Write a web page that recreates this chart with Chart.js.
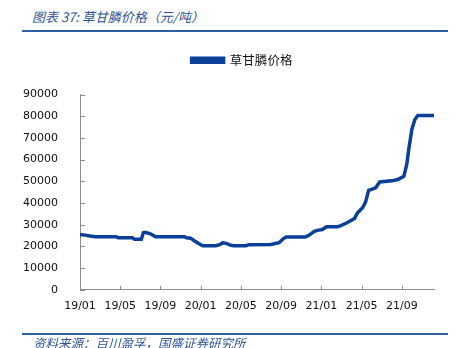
<!DOCTYPE html>
<html>
<head>
<meta charset="utf-8">
<script src="https://cdn.jsdelivr.net/npm/chart.js@4"></script>
<style>
    body { margin: 0; background: #fff; }
    #wrap { position: relative; width: 460px; height: 348px; overflow: hidden; }
    #chart { position: absolute; left: 0; top: 0; }
    .title {
        position: absolute; left: 32px; top: 7px;
        font: italic 13px "Noto Sans CJK SC", sans-serif; color: #2f5597;
        white-space: nowrap;
    }
    .rule { position: absolute; left: 22px; width: 426px; background: #2e62a8; }
    .source {
        position: absolute; left: 33px; top: 333px;
        font: italic 12.5px "Noto Sans CJK SC", sans-serif; color: #2f5597;
        white-space: nowrap;
    }
</style>
</head>
<body>
<div id="wrap">
    <div class="title">图表 37: 草甘膦价格（元/吨）</div>
    <div class="rule" style="top:30px;height:2px"></div>
    <canvas id="chart" width="460" height="348"></canvas>
    <div class="rule" style="top:333px;height:2px"></div>
    <div class="source">资料来源：百川盈孚，国盛证券研究所</div>
</div>
<script>
// month index: 0 = 2019/01
const months = [
    0, 0.5, 1.0, 1.5, 3.6, 3.8, 5.2, 5.4, 6.1, 6.3, 6.5, 7.0, 7.5,
    10.4, 10.6, 11.0, 11.4, 11.8, 12.2, 13.5, 13.9, 14.2, 14.6, 15.0, 15.3,
    16.5, 16.8, 19.0, 19.4, 19.8, 20.2, 20.5, 22.4, 22.8, 23.3, 23.6, 24.1,
    24.5, 25.6, 26.0, 26.6, 27.3, 27.6, 28.1, 28.4, 28.7, 29.4, 29.8, 31.0,
    31.6, 32.2, 32.5, 32.7, 33.0, 33.3, 33.6, 35.2,
];
const prices = [
    25500, 25200, 24800, 24500, 24500, 24000, 24000, 23300, 23300, 26300, 26500, 25800, 24500,
    24500, 24000, 23800, 22500, 21300, 20300, 20300, 20800, 21700, 21300, 20500, 20300,
    20300, 20800, 20900, 21300, 21700, 23500, 24300, 24300, 25200, 26900, 27400, 27800,
    29000, 29000, 29700, 31000, 32900, 35500, 37800, 40500, 45800, 47000, 49700, 50200,
    50800, 52300, 58000, 65000, 74000, 78500, 80300, 80300,
];
const xTicks = [0, 4, 8, 12, 16, 20, 24, 28, 32];
const xTickLabels = ["19/01", "19/05", "19/09", "20/01", "20/05", "20/09", "21/01", "21/05", "21/09"];
const seriesName = "草甘膦价格";

const lineColor = "#0b3f98";
const axisColor = "#8c8c8c";

Chart.defaults.font.family = "'DejaVu Sans', Verdana, sans-serif";
Chart.defaults.font.size = 11;
Chart.defaults.color = "#111";

// small tick marks pointing into the plot area
const innerTicks = {
    id: "innerTicks",
    afterDraw(chart) {
        const ctx = chart.ctx;
        const x = chart.scales.x;
        const y = chart.scales.y;
        ctx.save();
        ctx.strokeStyle = axisColor;
        ctx.lineWidth = 1;
        ctx.beginPath();
        xTicks.forEach((v) => {
            const px = Math.round(x.getPixelForValue(v)) + 0.5;
            ctx.moveTo(px, y.bottom);
            ctx.lineTo(px, y.bottom - 4);
        });
        y.ticks.forEach((t) => {
            const py = Math.round(y.getPixelForValue(t.value)) + 0.5;
            ctx.moveTo(x.left, py);
            ctx.lineTo(x.left + 5, py);
        });
        ctx.stroke();
        ctx.restore();
    },
};

// extra gap below the legend, and centre it over the plot area
const legendGap = {
    id: "legendGap",
    beforeInit(chart) {
        const fit = chart.legend.fit;
        chart.legend.fit = function () {
            fit.bind(chart.legend)();
            this.height += 18;
        };
    },
    afterLayout(chart) {
        chart.legend.left += 25;
        chart.legend.right += 25;
    },
};

new Chart(document.getElementById("chart"), {
    type: "line",
    data: {
        datasets: [
            {
                label: seriesName,
                data: months.map((m, i) => ({ x: m, y: prices[i] })),
                borderColor: lineColor,
                backgroundColor: lineColor,
                borderWidth: 3.5,
                pointRadius: 0,
                tension: 0,
            },
        ],
    },
    options: {
        responsive: false,
        animation: false,
        layout: { padding: { top: 44, right: 26, bottom: 33, left: 0 } },
        plugins: {
            legend: {
                display: true,
                labels: {
                    boxWidth: 32,
                    boxHeight: 4,
                    padding: 10,
                    color: "#111",
                    font: { size: 12.5, family: "'Noto Sans CJK SC', sans-serif" },
                },
            },
            tooltip: { enabled: false },
        },
        scales: {
            x: {
                type: "linear",
                min: 0,
                max: 35.2,
                afterBuildTicks: (scale) => {
                    scale.ticks = xTicks.map((v) => ({ value: v }));
                },
                ticks: {
                    autoSkip: false,
                    maxRotation: 0,
                    padding: 2,
                    callback: (v) => xTickLabels[xTicks.indexOf(v)],
                },
                grid: { display: false },
                border: { display: true, color: axisColor },
            },
            y: {
                min: 0,
                max: 90000,
                afterFit: (scale) => {
                    scale.width = 80;
                },
                ticks: { stepSize: 10000, padding: 14, callback: (v) => String(v) },
                grid: { display: false },
                border: { display: true, color: axisColor },
            },
        },
    },
    plugins: [innerTicks, legendGap],
});
</script>
</body>
</html>
